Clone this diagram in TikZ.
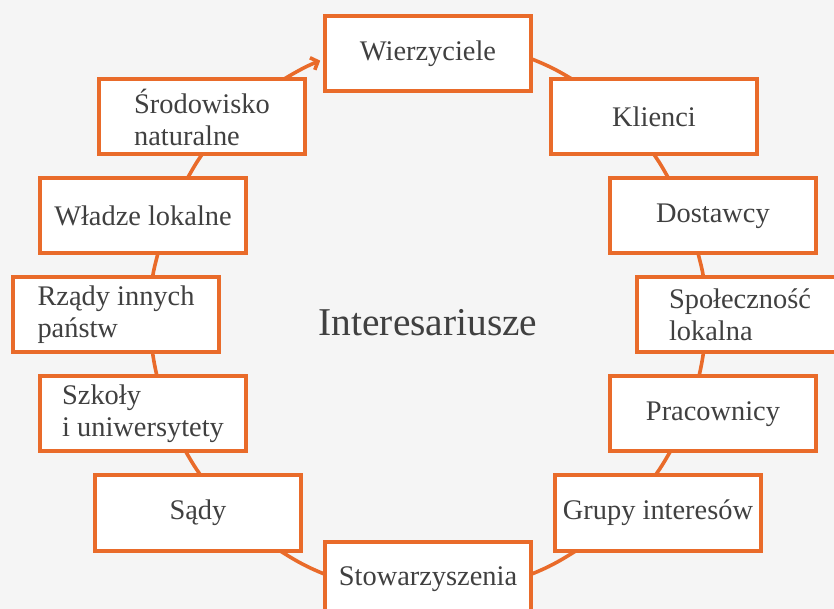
\documentclass[tikz,border=0pt]{standalone}
\usepackage{fontspec}
\setmainfont{Liberation Serif}
\usepackage{tikz}
\usetikzlibrary{arrows.meta, positioning}
\definecolor{ringorange}{HTML}{E96B2A}
\definecolor{textgray}{HTML}{404040}
\definecolor{bggray}{HTML}{F5F5F5}
\tikzstyle{box} = [rectangle, minimum width=206pt, minimum height=75pt, inner sep=2pt, align=left, draw=ringorange, line width=4pt, fill=white, text=textgray, font=\fontsize{28.4}{32}\selectfont]
\tikzstyle{title} = [text=textgray, font=\fontsize{39.4}{45}\selectfont]
\tikzstyle{ring} = [draw=ringorange, line width=3.6pt, shorten <=-2pt, shorten >=-2pt]
\tikzstyle{arrow} = [ring, -{Straight Barb[length=6pt,width=13pt]}, shorten >=3pt]

\begin{document}
\begin{tikzpicture}[x=1pt, y=1pt, node distance=99pt]
	\path[use as bounding box, fill=bggray] (-428,-293) rectangle (406,316);
	\clip (-428,-293) rectangle (406,316);
	% prawa strona
	\node (spolecznosc) [box] at (312,1) {Społeczność\\lokalna};
	\node (dostawcy) [box, above of=spolecznosc, xshift=-27pt] {Dostawcy};
	\node (klienci) [box, above of=dostawcy, xshift=-59pt] {Klienci};
	\node (pracownicy) [box, below of=spolecznosc, xshift=-27pt] {Pracownicy};
	\node (grupy) [box, below of=pracownicy, xshift=-55pt] {Grupy interesów};
	% lewa strona
	\node (rzady) [box] at (-312,1) {Rządy innych\\państw};
	\node (wladze) [box, above of=rzady, xshift=27pt] {Władze lokalne};
	\node (srodowisko) [box, above of=wladze, xshift=59pt] {Środowisko\\naturalne};
	\node (szkoly) [box, below of=rzady, xshift=27pt] {Szkoły\\i uniwersytety};
	\node (sady) [box, below of=szkoly, xshift=55pt] {Sądy};
	% gora, dol, srodek
	\node (wierzyciele) [box] at (0,262) {Wierzyciele};
	\node (stowarzyszenia) [box] at (0,-263) {Stowarzyszenia};
	\node (interesariusze) [title] at (0,-7) {Interesariusze};
	% pierscien
	\draw [ring] (wierzyciele.-3) to[out=-22, in=149] (klienci.155);
	\draw [ring] (klienci.-88) to[out=-55, in=120] (dostawcy.139);
	\draw [ring] (dostawcy.-110) to[out=-77, in=98] (spolecznosc.133);
	\draw [ring] (spolecznosc.-133) to[out=-98, in=78] (pracownicy.109);
	\draw [ring] (pracownicy.-138) to[out=-120, in=55] (grupy.92);
	\draw [ring] (grupy.-155) to[out=-148, in=22] (stowarzyszenia.3);
	\draw [ring] (stowarzyszenia.177) to[out=158, in=-32] (sady.-25);
	\draw [ring] (sady.88) to[out=125, in=-60] (szkoly.-42);
	\draw [ring] (szkoly.71) to[out=102, in=-82] (rzady.-47);
	\draw [ring] (rzady.47) to[out=82, in=-103] (wladze.-70);
	\draw [ring] (wladze.41) to[out=60, in=-125] (srodowisko.-92);
	\draw [arrow] (srodowisko.25) to[out=31, in=-158] (wierzyciele.183);
\end{tikzpicture}
\end{document}
